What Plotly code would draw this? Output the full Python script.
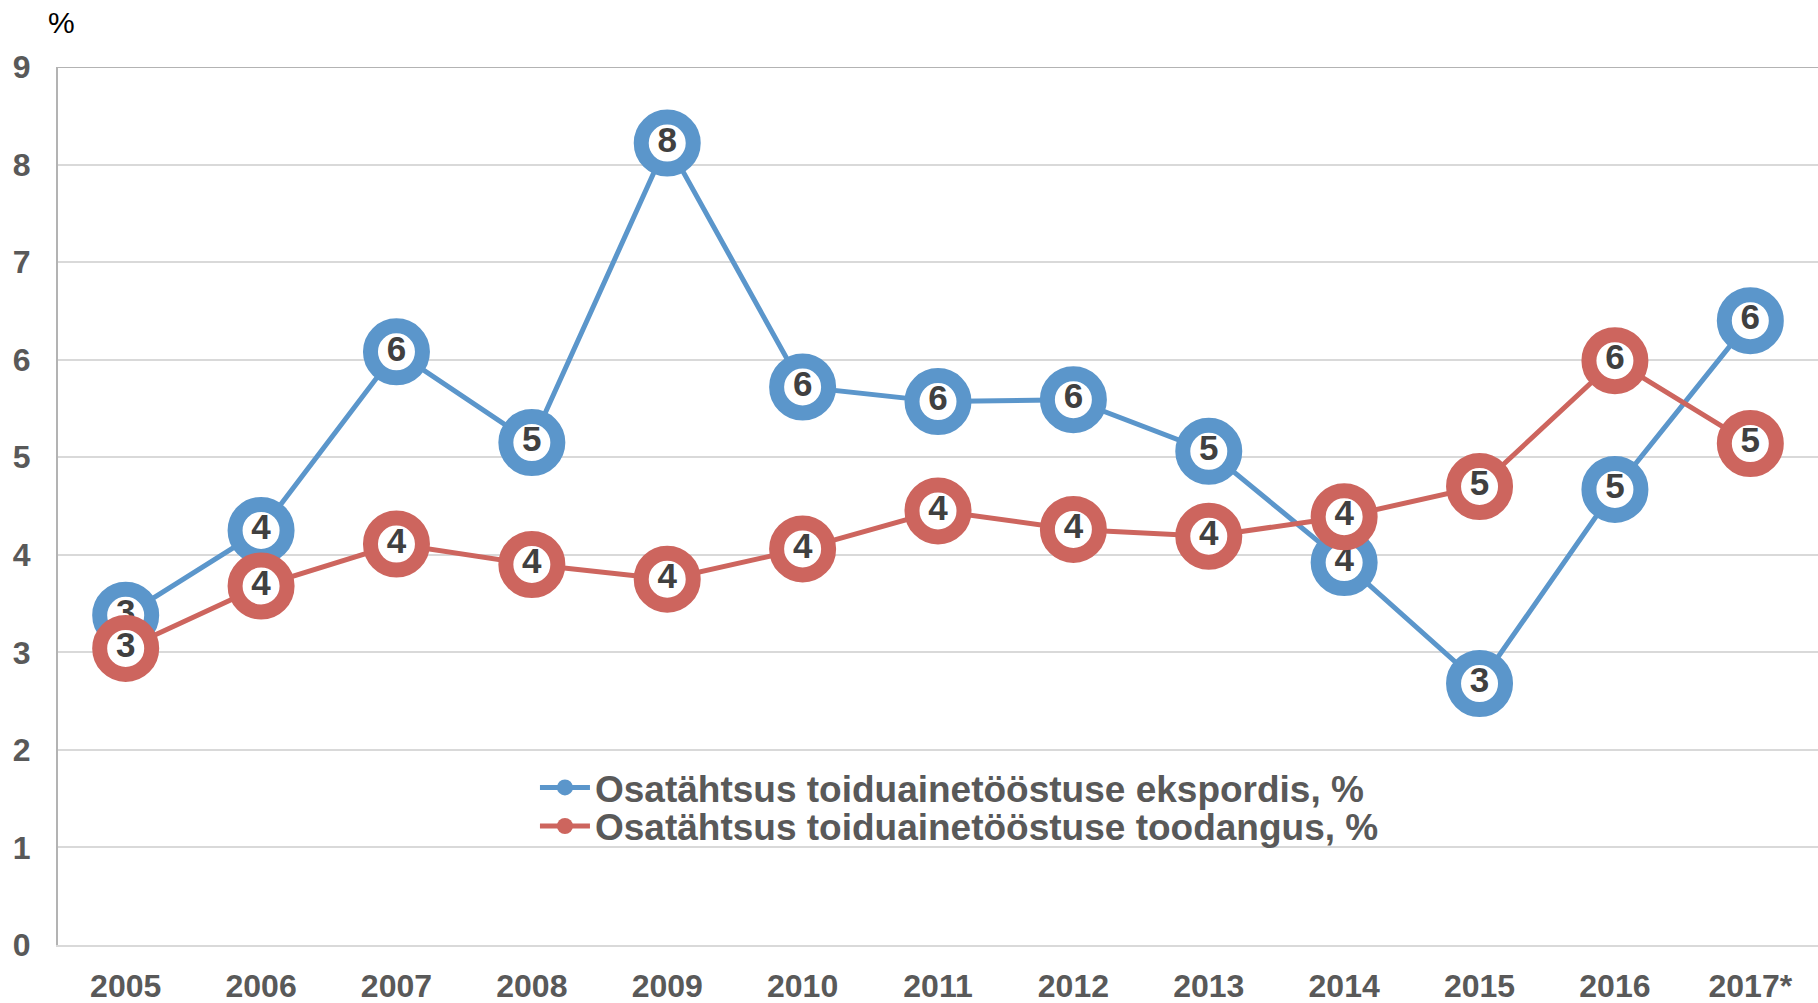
import plotly.graph_objects as go

years = ["2005", "2006", "2007", "2008", "2009", "2010", "2011", "2012", "2013", "2014", "2015", "2016", "2017*"]
export_share = [3.38, 4.25, 6.08, 5.15, 8.22, 5.72, 5.57, 5.59, 5.06, 3.92, 2.68, 4.67, 6.40]
production_share = [3.04, 3.68, 4.11, 3.90, 3.75, 4.06, 4.45, 4.26, 4.19, 4.39, 4.70, 5.99, 5.14]
series_names = ["Osatähtsus toiduainetööstuse ekspordis, %", "Osatähtsus toiduainetööstuse toodangus, %"]
y_ticks = [0, 1, 2, 3, 4, 5, 6, 7, 8, 9]

FONT = "Arial, Liberation Sans, sans-serif"
BLUE = "#5B96CB"
RED = "#CD655E"

fig = go.Figure()
series = [(series_names[0], export_share, BLUE, "legend", 0.179),
          (series_names[1], production_share, RED, "legend2", 0.135)]
for name, vals, col, lg, ly in series:
    fig.add_trace(go.Scatter(
        x=years, y=vals, name=name, mode="lines+markers+text", showlegend=False,
        line=dict(color=col, width=5),
        marker=dict(size=52, color="white", line=dict(color=col, width=15)),
        texttemplate="%{y:.0f}", textposition="middle center",
        textfont=dict(family=FONT, size=35, color="#404040", weight="bold"),
        cliponaxis=False,
    ))
for name, vals, col, lg, ly in series:
    fig.add_trace(go.Scatter(
        x=[None], y=[None], name=name, mode="lines+markers", legend=lg,
        line=dict(color=col, width=5),
        marker=dict(size=22, color=col),
    ))

legend_common = dict(
    x=0.271, xanchor="left", yanchor="middle",
    bgcolor="rgba(0,0,0,0)",
    font=dict(family=FONT, size=37, color="#595959", weight="bold"),
    itemwidth=50,
)

fig.update_layout(
    width=1818, height=1003,
    margin=dict(l=58, r=0, t=67, b=58),
    plot_bgcolor="white", paper_bgcolor="white",
    legend=dict(y=series[0][4], **legend_common),
    legend2=dict(y=series[1][4], **legend_common),
    xaxis=dict(
        type="category", range=[-0.5, 12.5], showgrid=False, showline=True,
        linecolor="#d9d9d9", linewidth=2, automargin=False,
        tickfont=dict(family=FONT, size=32, color="#595959", weight="bold"),
        ticks="", ticklabelstandoff=12,
    ),
    yaxis=dict(
        range=[0, 9], tickvals=y_ticks, showgrid=True, gridcolor="#d9d9d9", gridwidth=2,
        showline=True, linecolor="#b3b3b3", linewidth=2, zeroline=False, automargin=False,
        tickfont=dict(family=FONT, size=32, color="#595959", weight="bold"),
        ticks="", ticklabelstandoff=19,
    ),
    annotations=[dict(
        text="%", xref="paper", yref="paper", x=0, xshift=-12, y=1.0, yshift=26,
        xanchor="left", yanchor="bottom", showarrow=False,
        font=dict(family=FONT, size=30, color="#000000"),
    )],
    shapes=[dict(type="line", xref="paper", yref="y", x0=0, x1=1, y0=9, y1=9,
                 line=dict(color="#b3b3b3", width=2), layer="below")],
)

fig.write_html("out.html", config={"displayModeBar": False},
               post_script="document.body.style.margin='0';document.body.style.overflow='hidden';")
